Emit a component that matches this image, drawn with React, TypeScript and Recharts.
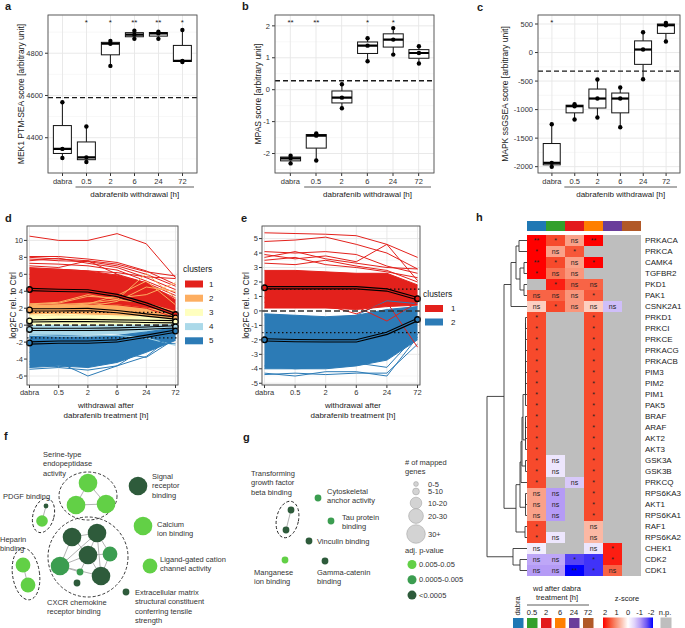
import React from 'react';
import {
  ComposedChart,
  BarChart,
  ScatterChart,
  Bar,
  Line,
  Area,
  Scatter,
  XAxis,
  YAxis,
  CartesianGrid,
  ReferenceLine,
  ReferenceArea,
  Cell,
  LabelList,
} from 'recharts';

const FONT = '"Liberation Sans", Arial, Helvetica, sans-serif';
const INK = '#1a1a1a';
const TICK = '#333';

// ---------- a-c: pathway activity scores per time point ----------
const groups = ['dabra', '0.5', '2', '6', '24', '72'];

const mek1Points = [
  [4304, 4347, 4568],
  [4285, 4307, 4453],
  [4740, 4845, 4858],
  [4868, 4888, 4907],
  [4868, 4894, 4902],
  [4758, 4764, 4910],
];
const mek1Sig = ['', '*', '*', '**', '**', '*'];
const mek1Cutoff = 4590;
const mek1Ticks = [4400, 4600, 4800];
const mek1Minor = [4300, 4500, 4700, 4900];

const mpasPoints = [
  [-2.31, -2.15, -2.07],
  [-2.22, -1.44, -1.37],
  [-0.58, -0.25, 0.17],
  [0.89, 1.38, 1.61],
  [1.1, 1.57, 1.93],
  [0.82, 1.15, 1.36],
];
const mpasSig = ['**', '**', '', '*', '*', ''];
const mpasCutoff = 0.28;
const mpasTicks = [-2, -1, 0, 1, 2];
const mpasMinor = [-2.5, -1.5, -0.5, 0.5, 1.5];

const mapkPoints = [
  [-2003, -1933, -1256],
  [-1174, -940, -905],
  [-1139, -806, -473],
  [-1308, -806, -613],
  [-467, 53, 356],
  [193, 479, 520],
];
const mapkSig = ['*', '', '', '', '', ''];
const mapkCutoff = -327;
const mapkTicks = [-2000, -1500, -1000, -500, 0, 500];
const mapkMinor = [-1750, -1250, -750, -250, 250];

// ---------- d: 5 clusters of phosphosites (band = dense core, lines = visible single sites) ----------
const dC1Low = [2.2, 2.2, 2.2, 2.0, 1.7, 0.9];
const dC1High = [6.7, 6.6, 6.4, 5.9, 5.0, 3.0];
const dC1Lines = [
  [10.5, 10.0, 10.0, 10.8, 9.6, 5.6],
  [8.1, 8.1, 7.8, 7.4, 6.4, 4.8],
  [8.0, 7.8, 7.6, 7.2, 6.3, 5.8],
  [7.8, 7.6, 7.5, 7.0, 6.0, 4.6],
  [7.6, 7.9, 7.3, 6.8, 5.6, 4.2],
  [7.3, 7.2, 7.0, 6.5, 5.2, 3.8],
  [7.0, 6.8, 7.6, 6.0, 5.0, 3.5],
  [6.8, 6.6, 6.4, 6.2, 5.7, 5.5],
  [6.0, 6.5, 6.0, 5.4, 4.8, 3.2],
  [5.5, 5.6, 5.2, 6.0, 4.0, 2.5],
  [2.4, 2.5, 2.5, 2.4, 2.0, 0.9],
];
const dC1Mean = [4.2, 4.1, 4.05, 3.5, 2.5, 1.25];

const dC2Low = [1.1, 1.1, 1.1, 1.0, 0.7, 0.5];
const dC2High = [2.5, 2.5, 2.6, 2.4, 2.0, 1.5];
const dC2Lines = [
  [2.3, 2.4, 2.6, 3.0, 6.1, 3.2],
  [2.0, 2.2, 2.5, 3.5, 5.2, 2.4],
  [1.6, 1.8, 2.2, 2.8, 4.5, 4.0],
  [2.4, 2.6, 3.4, 3.2, 3.6, 5.0],
  [2.5, 2.7, 3.6, 3.0, 2.6, 1.6],
];
const dC2Mean = [1.8, 1.8, 1.85, 1.6, 1.2, 0.85];

const dC3Low = [0.05, 0.1, 0.1, 0.1, 0.1, 0.2];
const dC3High = [1.1, 1.1, 1.1, 1.0, 0.9, 0.8];
const dC3Lines = [[1.2, 1.3, 1.2, 1.1, 1.0, 0.9]];
const dC3Mean = [0.5, 0.55, 0.55, 0.5, 0.45, 0.4];

const dC4Low = [-1.1, -1.1, -1.1, -1.0, -0.8, -0.6];
const dC4High = [-0.05, 0, -0.05, 0, 0, 0.1];
const dC4Lines = [[-1.2, -1.3, -1.3, -1.2, -1.5, -2.4]];
const dC4Mean = [-0.5, -0.5, -0.5, -0.45, -0.35, -0.2];

const dC5Low = [-5.0, -4.8, -5.0, -4.4, -3.2, -1.8];
const dC5High = [-1.2, -1.2, -1.3, -1.2, -0.8, -0.3];
const dC5Lines = [
  [-5.2, -5.0, -5.3, -4.8, -2.6, -1.3],
  [-4.3, -4.4, -6.0, -4.8, -3.7, -1.0],
  [-3.2, -3.4, -3.8, -3.3, -3.8, -1.6],
  [-4.6, -4.9, -4.6, -4.1, -3.0, -0.9],
  [-1.4, -1.5, -1.9, -2.1, -2.0, -2.2],
];
const dC5Mean = [-2.1, -2.0, -2.0, -1.85, -1.3, -0.7];

// ---------- e: 2 clusters ----------
const eC1Low = [0.2, 0.2, 0.2, 0.1, 0.3, 0.4];
const eC1High = [2.8, 2.8, 2.7, 2.6, 2.6, 1.8];
const eC1Lines = [
  [5.4, 5.35, 5.3, 5.2, 4.6, 3.7],
  [4.8, 4.9, 5.1, 4.6, 4.0, 2.9],
  [4.1, 4.0, 4.1, 3.9, 3.1, 2.6],
  [3.9, 3.6, 3.8, 3.4, 4.6, 2.1],
  [3.7, 4.1, 3.6, 3.3, 3.0, 2.9],
  [3.5, 3.7, 3.2, 3.0, 2.7, 2.3],
  [3.3, 3.2, 3.5, 3.1, 2.8, 2.0],
  [0.6, 0.5, 0.4, -0.2, 0.6, -2.5],
  [0.9, 0.8, 0.6, 0.3, -0.7, 0.6],
];
const eC1Mean = [1.6, 1.6, 1.6, 1.6, 1.45, 0.85];

const eC2Low = [-4.0, -4.0, -4.0, -3.8, -3.4, -2.0];
const eC2High = [-0.2, -0.3, -0.4, -0.3, 0.1, 0.3];
const eC2Lines = [
  [-4.3, -4.5, -4.2, -4.2, -4.5, -1.8],
  [-4.4, -4.3, -4.4, -4.3, -4.3, -2.3],
  [-3.8, -4.0, -3.9, -3.6, -3.9, -1.6],
  [-0.3, -0.5, -0.6, -0.3, 0.7, 0.5],
];
const eC2Mean = [-2.0, -2.05, -2.07, -2.07, -1.55, -0.6];

const dTicks = [-6, -4, -2, 0, 2, 4, 6, 8, 10];
const dMinor = [-7, -5, -3, -1, 1, 3, 5, 7, 9, 11];
const eTicks = [-5, -4, -3, -2, -1, 0, 1, 2, 3, 4, 5];
const eMinor = [-4.5, -3.5, -2.5, -1.5, -0.5, 0.5, 1.5, 2.5, 3.5, 4.5, 5.5];

// ---------- f, g: enriched GO terms ----------
const fNodes = [
  { x: 88, y: 53, genes: 32, padj: 0.01 },
  { x: 76, y: 75, genes: 33, padj: 0.01 },
  { x: 106, y: 74, genes: 33, padj: 0.01 },
  { x: 138, y: 56, genes: 34, padj: 0.0001 },
  { x: 46, y: 76, genes: 3, padj: 0.0001 },
  { x: 42, y: 91, genes: 14, padj: 0.01 },
  { x: 143, y: 96, genes: 35, padj: 0.01 },
  { x: 23, y: 135, genes: 24, padj: 0.01 },
  { x: 28, y: 155, genes: 24, padj: 0.01 },
  { x: 72, y: 107, genes: 33, padj: 0.0001 },
  { x: 97, y: 103, genes: 33, padj: 0.0001 },
  { x: 88, y: 125, genes: 33, padj: 0.0001 },
  { x: 110, y: 124, genes: 24, padj: 0.001 },
  { x: 60, y: 136, genes: 33, padj: 0.001 },
  { x: 101, y: 146, genes: 33, padj: 0.0001 },
  { x: 80, y: 142, genes: 7, padj: 0.001 },
  { x: 77, y: 153, genes: 7, padj: 0.0001 },
  { x: 150, y: 136, genes: 24, padj: 0.01 },
  { x: 126, y: 162, genes: 8, padj: 0.0001 },
];
const fEdges = [
  [0, 1], [0, 2], [1, 2], [4, 5], [7, 8],
  [9, 10], [9, 11], [10, 11], [10, 12], [11, 12], [11, 14], [13, 9], [13, 10],
  [13, 11], [13, 14], [14, 10], [14, 12], [13, 15], [15, 11],
];
const fGroups = [
  { cx: 88, cy: 66, rx: 29, ry: 24, angle: 0 },
  { cx: 43.5, cy: 85.5, rx: 10.5, ry: 17.5, angle: 15 },
  { cx: 26, cy: 144, rx: 13.5, ry: 26, angle: -8 },
  { cx: 88, cy: 127, rx: 40, ry: 40, angle: 0 },
];
const fLabels = [
  { x: 43, y: 24, lines: ['Serine-type', 'endopeptidase', 'activity'] },
  { x: 3, y: 66, lines: ['PDGF binding'] },
  { x: 152, y: 46, lines: ['Signal', 'receptor', 'binding'] },
  { x: 157, y: 94, lines: ['Calcium', 'ion binding'] },
  { x: 0, y: 109, lines: ['Heparin', 'binding'] },
  { x: 160, y: 129, lines: ['Ligand-gated cation', 'channel activity'] },
  { x: 47, y: 172, lines: ['CXCR chemokine', 'receptor binding'] },
  { x: 135, y: 162, lines: ['Extracellular matrix', 'structural constituent', 'conferring tensile', 'strength'] },
];

const gNodes = [
  { x: 61, y: 80, genes: 7, padj: 0.0001 },
  { x: 56, y: 100, genes: 7, padj: 0.0001 },
  { x: 88, y: 68, genes: 7, padj: 0.001 },
  { x: 101, y: 91, genes: 7, padj: 0.001 },
  { x: 79, y: 111, genes: 7, padj: 0.0001 },
  { x: 55, y: 130, genes: 7, padj: 0.01 },
  { x: 95, y: 131, genes: 7, padj: 0.0001 },
];
const gEdges = [[0, 1]];
const gGroups = [{ cx: 57.5, cy: 89.5, rx: 11, ry: 18.5, angle: 12 }];
const gLabels = [
  { x: 21, y: 43, lines: ['Transforming', 'growth factor', 'beta binding'] },
  { x: 97, y: 61, lines: ['Cytoskeletal', 'anchor activity'] },
  { x: 112, y: 87, lines: ['Tau protein', 'binding'] },
  { x: 87, y: 111, lines: ['Vinculin binding'] },
  { x: 24, y: 142, lines: ['Manganese', 'ion binding'] },
  { x: 87, y: 142, lines: ['Gamma-catenin', 'binding'] },
];

const geneBinLabels = ['0-5', '5-10', '10-20', '20-30', '30+'];
const geneBinExample = [3, 7, 15, 25, 35];
const pBinLabels = ['0.005-0.05', '0.0005-0.005', '<0.0005'];
const pBinExample = [0.01, 0.001, 0.0001];

// ---------- h: kinase activity heatmap ----------
const kinases = [
  'PRKACA', 'PRKCA', 'CAMK4', 'TGFBR2', 'PKD1', 'PAK1', 'CSNK2A1', 'PRKD1', 'PRKCI', 'PRKCE',
  'PRKACG', 'PRKACB', 'PIM3', 'PIM2', 'PIM1', 'PAK5', 'BRAF', 'ARAF', 'AKT2', 'AKT3',
  'GSK3A', 'GSK3B', 'PRKCQ', 'RPS6KA3', 'AKT1', 'RPS6KA1', 'RAF1', 'RPS6KA2', 'CHEK1', 'CDK2', 'CDK1',
];
const hColumns = ['dabra', '0.5', '2', '6', '24', '72'];
const hColumnColors = ['#1f78b4', '#33a02c', '#e31a1c', '#ff7f00', '#6a3d9a', '#b15928'];
const N = null;
const zScores = [
  [2.0, 1.5, 0.8, 2.0, N, N],
  [2.0, 0.8, 1.4, N, N, N],
  [2.0, 1.5, 0.8, 2.0, N, N],
  [2.0, 1.2, 0.9, N, N, N],
  [N, 1.8, 1.3, 1.3, N, N],
  [1.3, 1.3, 0.9, 1.4, N, N],
  [0.4, 1.5, 0.9, 0.4, -0.7, N],
  [1.5, N, N, 1.5, N, N],
  [1.5, N, N, 1.5, N, N],
  [1.5, N, N, 1.5, N, N],
  [1.5, N, N, 1.5, N, N],
  [1.5, N, N, 1.5, N, N],
  [1.5, N, N, 1.5, N, N],
  [1.5, N, N, 1.5, N, N],
  [1.5, N, N, 1.5, N, N],
  [1.5, N, N, 1.5, N, N],
  [1.5, N, N, 1.5, N, N],
  [1.5, N, N, 1.5, N, N],
  [1.5, N, N, 1.5, N, N],
  [1.5, N, N, 1.5, N, N],
  [1.5, -0.3, N, 1.5, N, N],
  [1.5, -0.3, N, 1.5, N, N],
  [1.5, N, -0.6, 1.5, N, N],
  [0.8, -1.0, N, 1.5, N, N],
  [0.8, -1.0, N, 1.5, N, N],
  [0.8, -1.0, N, 1.5, N, N],
  [1.5, N, N, 0.6, N, N],
  [1.5, -0.3, N, 0.6, N, N],
  [-0.2, N, N, -0.3, 1.8, N],
  [-0.9, -0.9, -1.6, -1.7, 1.8, N],
  [-1.0, -1.0, -2.0, -1.7, 1.3, N],
];
const sigs = [
  ['**', '*', 'ns', '**', '', ''],
  ['*', 'ns', '*', '', '', ''],
  ['**', '*', 'ns', '*', '', ''],
  ['*', 'ns', 'ns', '', '', ''],
  ['', '*', 'ns', 'ns', '', ''],
  ['ns', 'ns', 'ns', '*', '', ''],
  ['ns', '*', 'ns', 'ns', 'ns', ''],
  ['*', '', '', '*', '', ''],
  ['*', '', '', '*', '', ''],
  ['*', '', '', '*', '', ''],
  ['*', '', '', '*', '', ''],
  ['*', '', '', '*', '', ''],
  ['*', '', '', '*', '', ''],
  ['*', '', '', '*', '', ''],
  ['*', '', '', '*', '', ''],
  ['*', '', '', '*', '', ''],
  ['*', '', '', '*', '', ''],
  ['*', '', '', '*', '', ''],
  ['*', '', '', '*', '', ''],
  ['*', '', '', '*', '', ''],
  ['*', 'ns', '', '*', '', ''],
  ['*', 'ns', '', '*', '', ''],
  ['*', '', 'ns', '*', '', ''],
  ['ns', 'ns', '', '*', '', ''],
  ['ns', 'ns', '', '*', '', ''],
  ['ns', 'ns', '', '*', '', ''],
  ['*', '', '', 'ns', '', ''],
  ['*', 'ns', '', 'ns', '', ''],
  ['ns', '', '', 'ns', '*', ''],
  ['ns', 'ns', '*', '*', '*', ''],
  ['ns', 'ns', '**', '*', 'ns', ''],
];
// hclust-style merges: negative = leaf (1-based row), positive = earlier merge, then height
const dendroMerges = [
  [-1, -2, 8], [-3, -4, 3], [-5, -6, 3], [2, 3, 7], [1, 4, 11], [5, -7, 16],
  [-8, -9, 1.5], [7, -10, 1.5], [8, -11, 1.5], [9, -12, 1.5], [10, -13, 1.5], [11, -14, 1.5],
  [12, -15, 1.5], [13, -16, 1.5], [-17, -18, 1.5], [15, -19, 1.5], [16, -20, 1.5], [14, 17, 4],
  [-21, -22, 1.5], [18, 19, 5], [20, -23, 6], [-24, -25, 1.5], [22, -26, 1.5], [21, 23, 7],
  [-27, -28, 2], [24, 25, 11], [6, 26, 23], [-30, -31, 7], [-29, 28, 14], [27, 29, 40],
];
const zLegend = [2, 1, 0, -1, -2];

// ---------- helpers ----------
const zStops = [2, 1.5, 1, 0.5, 0, -0.5, -1, -1.5, -2];
const zStopColors = ['#ff0000', '#f74a2c', '#f98b6d', '#fcc3b2', '#ffffff', '#e1d5fb', '#b59bf6', '#6b55f3', '#0000ff'];
const NP = '#bebebe';

function hexToRgb(h: string) {
  return [1, 3, 5].map(i => parseInt(h.slice(i, i + 2), 16));
}
function zColor(z: number | null) {
  if (z === null) return NP;
  const v = Math.max(-2, Math.min(2, z));
  for (let i = 0; i < zStops.length - 1; i++) {
    if (v <= zStops[i] && v >= zStops[i + 1]) {
      const t = (zStops[i] - v) / (zStops[i] - zStops[i + 1]);
      const a = hexToRgb(zStopColors[i]);
      const b = hexToRgb(zStopColors[i + 1]);
      const c = a.map((x, k) => Math.round(x + t * (b[k] - x)));
      return `rgb(${c[0]},${c[1]},${c[2]})`;
    }
  }
  return NP;
}

const pColor = (p: number) => (p < 0.0005 ? '#2e5b3b' : p < 0.005 ? '#3b9d50' : '#62d046');
const geneRadius = (g: number) => (g <= 5 ? 2.4 : g <= 10 ? 3.4 : g <= 20 ? 5.8 : g <= 30 ? 7.4 : 9.3);

const quantile = (s: number[], p: number) => {
  const h = (s.length - 1) * p;
  const lo = Math.floor(h);
  return lo + 1 < s.length ? s[lo] + (h - lo) * (s[lo + 1] - s[lo]) : s[lo];
};

function boxRows(points: number[][], sig: string[], starAt: number) {
  return groups.map((g, i) => {
    const s = [...points[i]].sort((a, b) => a - b);
    const q1 = quantile(s, 0.25);
    const med = quantile(s, 0.5);
    const q3 = quantile(s, 0.75);
    const iqr = q3 - q1;
    const inside = s.filter(v => v >= q1 - 1.5 * iqr && v <= q3 + 1.5 * iqr);
    return {
      g, range: [s[0], s[s.length - 1]], pts: s, q1, med, q3,
      wLo: inside[0], wHi: inside[inside.length - 1], sig: sig[i], starAt,
    };
  });
}

function BoxShape(props: any) {
  const { x, y, width, height, payload } = props;
  const [lo, hi] = payload.range;
  const top = Math.min(y, y + height);
  const bot = Math.max(y, y + height);
  const py = (v: number) => top + ((bot - top) * (hi - v)) / (hi - lo);
  const cx = x + width / 2;
  return (
    <g>
      <line x1={cx} x2={cx} y1={py(payload.wHi)} y2={py(payload.q3)} stroke="#111" strokeWidth={1} />
      <line x1={cx} x2={cx} y1={py(payload.q1)} y2={py(payload.wLo)} stroke="#111" strokeWidth={1} />
      <rect x={x} y={py(payload.q3)} width={width} height={Math.max(1, py(payload.q1) - py(payload.q3))}
        fill="#fff" stroke="#111" strokeWidth={1} />
      <line x1={x} x2={x + width} y1={py(payload.med)} y2={py(payload.med)} stroke="#000" strokeWidth={2.2} />
      {payload.pts.map((v: number, i: number) => (
        <circle key={i} cx={cx} cy={py(v)} r={2.2} fill="#000" />
      ))}
      {payload.sig ? (
        <text x={cx} y={py(payload.starAt) + 2} fontSize={8} textAnchor="middle" dominantBaseline="central" fill={INK}>
          {payload.sig}
        </text>
      ) : null}
    </g>
  );
}

const PAD = 2.5;
const boxA = { left: 0, top: 0, width: 200, height: 203, yw: 48, mt: 15, mr: 3, xh: 30 };
const boxB = { left: 225, top: 0, width: 212, height: 203, yw: 50, mt: 15, mr: 3, xh: 30 };
const boxC = { left: 450, top: 0, width: 233, height: 203, yw: 88, mt: 15, mr: 3, xh: 30 };
const boxD = { left: 0, top: 215, width: 181, height: 184, yw: 27, mt: 11, mr: 3, xh: 14 };
const boxE = { left: 236, top: 215, width: 187, height: 184, yw: 26, mt: 11, mr: 3, xh: 14 };
const plotOf = (b: any) => ({ x: b.left + b.yw, y: b.top + b.mt, w: b.width - b.yw - b.mr, h: b.height - b.mt - b.xh });

const axisTick = { fontSize: 7.5, fill: TICK };

function BoxPanel({ box, points, sig, starAt, cutoff, domain, ticks, minor }: any) {
  const data = boxRows(points, sig, starAt);
  return (
    <div style={{ position: 'absolute', left: box.left, top: box.top }}>
      <ComposedChart width={box.width} height={box.height} data={data}
        margin={{ top: box.mt, right: box.mr, bottom: 0, left: 0 }} barCategoryGap="12%">
        <CartesianGrid horizontalValues={minor} vertical={false} stroke="#f1f1f1" strokeWidth={0.6} />
        <CartesianGrid stroke="#e6e6e6" strokeWidth={0.9} />
        <XAxis dataKey="g" type="category" interval={0} padding={{ left: PAD, right: PAD }} height={box.xh}
          axisLine={false} tickSize={3} tickLine={{ stroke: TICK }} tick={axisTick} tickMargin={3} />
        <YAxis type="number" domain={domain} ticks={ticks} allowDataOverflow width={box.yw}
          axisLine={false} tickSize={3} tickLine={{ stroke: TICK }} tick={axisTick} tickMargin={2} />
        <ReferenceLine y={cutoff} stroke="#1a1a1a" strokeDasharray="5 3" strokeWidth={1.3} />
        <Bar dataKey="range" shape={BoxShape} isAnimationActive={false} />
      </ComposedChart>
    </div>
  );
}

function endDot(color: string) {
  return (props: any) => {
    const { cx, cy, index } = props;
    if (index !== 0 && index !== groups.length - 1) return <g key={index} />;
    return <circle key={index} cx={cx} cy={cy} r={2.8} fill={color} stroke="#000" strokeWidth={1.4} />;
  };
}

function ClusterPanel({ box, clusters, domain, ticks, minor }: any) {
  const data = groups.map((t, i) => {
    const row: any = { t };
    clusters.forEach((c: any, ci: number) => {
      row[`b${ci}`] = [c.low[i], c.high[i]];
      c.lines.forEach((l: number[], li: number) => { row[`l${ci}_${li}`] = l[i]; });
      row[`m${ci}`] = c.mean[i];
    });
    return row;
  });
  return (
    <div style={{ position: 'absolute', left: box.left, top: box.top }}>
      <ComposedChart width={box.width} height={box.height} data={data}
        margin={{ top: box.mt, right: box.mr, bottom: 0, left: 0 }}>
        <CartesianGrid horizontalValues={minor} vertical={false} stroke="#f1f1f1" strokeWidth={0.6} />
        <CartesianGrid stroke="#e6e6e6" strokeWidth={0.9} />
        <XAxis dataKey="t" type="category" interval={0} padding={{ left: PAD, right: PAD }} height={box.xh}
          axisLine={false} tickSize={3} tickLine={{ stroke: TICK }} tick={axisTick} tickMargin={2} />
        <YAxis type="number" domain={domain} ticks={ticks} allowDataOverflow width={box.yw}
          axisLine={false} tickSize={3} tickLine={{ stroke: TICK }} tick={axisTick} tickMargin={1} />
        {clusters.map((c: any, ci: number) => (
          <Area key={`b${ci}`} type="linear" dataKey={`b${ci}`} fill={c.color} fillOpacity={1}
            stroke={c.color} strokeWidth={1} dot={false} activeDot={false} isAnimationActive={false} />
        ))}
        {clusters.map((c: any, ci: number) =>
          c.lines.map((_: any, li: number) => (
            <Line key={`l${ci}_${li}`} type="linear" dataKey={`l${ci}_${li}`} stroke={c.color}
              strokeWidth={1} dot={false} activeDot={false} isAnimationActive={false} />
          )),
        )}
        <ReferenceLine y={0} stroke="#333" strokeDasharray="6 3" strokeWidth={1.6} />
        <ReferenceLine y={1.5} stroke="#111" strokeDasharray="1.5 2.5" strokeWidth={1.3} />
        <ReferenceLine y={-1.5} stroke="#111" strokeDasharray="1.5 2.5" strokeWidth={1.3} />
        {clusters.map((c: any, ci: number) => (
          <Line key={`mo${ci}`} type="linear" dataKey={`m${ci}`} stroke="#000" strokeWidth={3.4}
            dot={false} activeDot={false} isAnimationActive={false} />
        ))}
        {clusters.map((c: any, ci: number) => (
          <Line key={`mi${ci}`} type="linear" dataKey={`m${ci}`} stroke={c.color} strokeWidth={1.1}
            dot={endDot(c.color)} activeDot={false} isAnimationActive={false} />
        ))}
      </ComposedChart>
    </div>
  );
}

function ellipseShape(angle: number) {
  return (p: any) => {
    const cx = p.x + p.width / 2;
    const cy = p.y + p.height / 2;
    return (
      <ellipse cx={cx} cy={cy} rx={Math.abs(p.width) / 2} ry={Math.abs(p.height) / 2}
        transform={`rotate(${angle} ${cx} ${cy})`} fill="none" stroke="#222" strokeDasharray="3 2" strokeWidth={0.9} />
    );
  };
}

function NodeShape(props: any) {
  const { cx, cy, payload } = props;
  return <circle cx={cx} cy={cy} r={geneRadius(payload.genes)} fill={pColor(payload.padj)} />;
}

function TermLabel(props: any) {
  const { cx, cy, payload } = props;
  return (
    <g>
      {payload.lines.map((l: string, i: number) => (
        <text key={i} x={cx} y={cy + i * 9.5} fontSize={7.5} fill="#333" dominantBaseline="central">{l}</text>
      ))}
    </g>
  );
}

function NetworkPanel({ left, top, width, height, nodes, edges, rings, labels }: any) {
  return (
    <div style={{ position: 'absolute', left, top }}>
      <ScatterChart width={width} height={height} margin={{ top: 0, right: 0, bottom: 0, left: 0 }}>
        <XAxis type="number" dataKey="x" domain={[0, width]} allowDataOverflow hide />
        <YAxis type="number" dataKey="y" domain={[0, height]} allowDataOverflow reversed hide />
        {edges.map(([a, b]: number[], i: number) => (
          <ReferenceLine key={`e${i}`} ifOverflow="visible" stroke="#a0a0a0" strokeWidth={0.8}
            segment={[{ x: nodes[a].x, y: nodes[a].y }, { x: nodes[b].x, y: nodes[b].y }]} />
        ))}
        <Scatter data={nodes} shape={NodeShape} isAnimationActive={false} />
        {rings.map((r: any, i: number) => (
          <ReferenceArea key={`r${i}`} ifOverflow="visible" x1={r.cx - r.rx} x2={r.cx + r.rx}
            y1={r.cy - r.ry} y2={r.cy + r.ry} shape={ellipseShape(r.angle)} />
        ))}
        <Scatter data={labels} shape={TermLabel} isAnimationActive={false} />
      </ScatterChart>
    </div>
  );
}

function dendroSegments() {
  const pos: number[] = [];
  const hts: number[] = [];
  const where = (ref: number) => (ref < 0 ? { y: -ref - 0.5, h: 0 } : { y: pos[ref - 1], h: hts[ref - 1] });
  const segs: any[] = [];
  dendroMerges.forEach(([a, b, h]) => {
    const A = where(a);
    const B = where(b);
    segs.push([{ x: A.h, y: A.y }, { x: h, y: A.y }]);
    segs.push([{ x: B.h, y: B.y }, { x: h, y: B.y }]);
    segs.push([{ x: h, y: A.y }, { x: h, y: B.y }]);
    pos.push((A.y + B.y) / 2);
    hts.push(h);
  });
  return segs;
}

const HEAT_X = 527;
const HEAT_Y = 235;
const CELL_W = 19;
const CELL_H = 11;

function Heatmap() {
  const rows = kinases.map((k, i) => {
    const row: any = { kinase: k };
    hColumns.forEach((_, j) => {
      row[`c${j}`] = 1;
      row[`s${j}`] = sigs[i][j];
    });
    return row;
  });
  const annot = [{ name: 'wd', c0: 1, c1: 1, c2: 1, c3: 1, c4: 1, c5: 1 }];
  const leaves = kinases.map((_, i) => ({ x: 0, y: i + 0.5 }));
  const segs = dendroSegments();
  const heatW = CELL_W * hColumns.length;
  const heatH = CELL_H * kinases.length;
  return (
    <>
      <div style={{ position: 'absolute', left: HEAT_X, top: 221 }}>
        <BarChart layout="vertical" width={heatW} height={10} data={annot}
          margin={{ top: 0, right: 0, bottom: 0, left: 0 }} barCategoryGap={0}>
          <XAxis type="number" domain={[0, hColumns.length]} hide />
          <YAxis type="category" dataKey="name" hide />
          {hColumns.map((_, j) => (
            <Bar key={j} dataKey={`c${j}`} stackId="a" fill={hColumnColors[j]} isAnimationActive={false} />
          ))}
        </BarChart>
      </div>
      <div style={{ position: 'absolute', left: HEAT_X, top: HEAT_Y }}>
        <BarChart layout="vertical" width={heatW + 44} height={heatH} data={rows}
          margin={{ top: 0, right: 0, bottom: 0, left: 0 }} barCategoryGap={0}>
          <XAxis type="number" domain={[0, hColumns.length]} hide />
          <YAxis type="category" dataKey="kinase" orientation="right" width={44} interval={0}
            axisLine={false} tickLine={false} tickSize={2} tickMargin={2}
            tick={{ fontSize: 8, fill: INK }} />
          {hColumns.map((_, j) => (
            <Bar key={j} dataKey={`c${j}`} stackId="h" isAnimationActive={false}>
              {rows.map((__, i) => (
                <Cell key={i} fill={zColor(zScores[i][j])} />
              ))}
              <LabelList dataKey={`s${j}`} position="center" fontSize={7} fill="#222" />
            </Bar>
          ))}
        </BarChart>
      </div>
      <div style={{ position: 'absolute', left: 485, top: HEAT_Y }}>
        <ScatterChart width={42} height={heatH} margin={{ top: 0, right: 0, bottom: 0, left: 0 }}>
          <XAxis type="number" dataKey="x" domain={[0, 42]} allowDataOverflow reversed hide />
          <YAxis type="number" dataKey="y" domain={[0, kinases.length]} allowDataOverflow reversed hide />
          <Scatter data={leaves} shape={() => <g />} isAnimationActive={false} />
          {segs.map((s, i) => (
            <ReferenceLine key={i} segment={s} ifOverflow="visible" stroke="#333" strokeWidth={0.9} />
          ))}
        </ScatterChart>
      </div>
    </>
  );
}

function T({ x, y, children, size = 7.5, anchor = 'start', weight = 'normal', fill = INK, rotate = 0 }: any) {
  return (
    <text x={x} y={y} fontSize={size} textAnchor={anchor} dominantBaseline="central" fontWeight={weight}
      fill={fill} transform={rotate ? `rotate(${rotate} ${x} ${y})` : undefined}>
      {children}
    </text>
  );
}

function Overlay() {
  const boxes = [
    { b: boxA, title: 'MEK1 PTM-SEA score [arbitrary unit]', tx: 21 },
    { b: boxB, title: 'MPAS score [arbitrary unit]', tx: 258 },
    { b: boxC, title: 'MAPK ssGSEA score [arbitrary unit]', tx: 505 },
  ];
  const lines = [
    { b: boxD, tx: 12.5, cx: 106 },
    { b: boxE, tx: 246, cx: 353 },
  ];
  const dColors = ['#e3211c', '#fdae61', '#ffffbf', '#abd9e9', '#2c7bb6'];
  const eColors = ['#e3211c', '#2c7bb6'];
  const gradStops = zStops.map((z, i) => ({ off: ((2 - z) / 4) * 100, c: zStopColors[i] }));
  return (
    <svg width={685} height={628} style={{ position: 'absolute', left: 0, top: 0, pointerEvents: 'none' }}
      fontFamily={FONT}>
      <defs>
        <linearGradient id="zgrad" x1="0" x2="1" y1="0" y2="0">
          {gradStops.map((s, i) => <stop key={i} offset={`${s.off}%`} stopColor={s.c} />)}
        </linearGradient>
      </defs>
      {[['a', 5, 6], ['b', 242, 6], ['c', 477, 7], ['d', 5, 218], ['e', 241, 218], ['h', 476, 217],
        ['f', 4, 436], ['g', 243, 437]].map(([l, x, y]: any) => (
        <T key={l} x={x} y={y} size={11} weight="bold">{l}</T>
      ))}
      {boxes.map(({ b, title, tx }, i) => {
        const R = plotOf(b);
        const band = (R.w - 2 * PAD) / 6;
        const ux1 = R.x + PAD + band + 1;
        const ux2 = R.x + R.w - 3;
        return (
          <g key={i}>
            <rect x={R.x} y={R.y} width={R.w} height={R.h} fill="none" stroke="#555" strokeWidth={0.9} />
            <line x1={ux1} x2={ux2} y1={R.y + R.h + 14} y2={R.y + R.h + 14} stroke="#333" strokeWidth={0.8} />
            <T x={(ux1 + ux2) / 2} y={R.y + R.h + 21} size={8} anchor="middle">dabrafenib withdrawal [h]</T>
            <T x={tx} y={R.y + R.h / 2} size={8.5} anchor="middle" rotate={-90}>{title}</T>
          </g>
        );
      })}
      {lines.map(({ b, tx, cx }, i) => {
        const R = plotOf(b);
        return (
          <g key={i}>
            <rect x={R.x} y={R.y} width={R.w} height={R.h} fill="none" stroke="#555" strokeWidth={0.9} />
            <T x={tx} y={R.y + R.h / 2} size={8.5} anchor="middle" rotate={-90}>log2FC rel. to Ctrl</T>
            <T x={cx} y={405} size={8} anchor="middle">withdrawal after</T>
            <T x={cx} y={415} size={8} anchor="middle">dabrafenib treatment [h]</T>
          </g>
        );
      })}
      <T x={183} y={269} size={8.5}>clusters</T>
      {dColors.map((c, i) => (
        <g key={i}>
          <rect x={185} y={280.5 + i * 14.2} width={18} height={7} fill={c} />
          <T x={209} y={284 + i * 14.2} size={8}>{i + 1}</T>
        </g>
      ))}
      <T x={423} y={294} size={8.5}>clusters</T>
      {eColors.map((c, i) => (
        <g key={i}>
          <rect x={425} y={305 + i * 13.5} width={18} height={7} fill={c} />
          <T x={451} y={308.5 + i * 13.5} size={8}>{i + 1}</T>
        </g>
      ))}
      <T x={405} y={462} size={7.5} fill="#333"># of mapped</T>
      <T x={405} y={471} size={7.5} fill="#333">genes</T>
      {geneBinLabels.map((l, i) => {
        const yy = [484, 491.5, 503, 516, 534][i];
        return (
          <g key={l}>
            <circle cx={416} cy={yy} r={geneRadius(geneBinExample[i])} fill="#d3d3d3" stroke="#9a9a9a" strokeWidth={0.5} />
            <T x={428} y={yy} size={7.5} fill="#333">{l}</T>
          </g>
        );
      })}
      <T x={405} y={550.5} size={7.5} fill="#333">adj. p-value</T>
      {pBinLabels.map((l, i) => (
        <g key={l}>
          <circle cx={412} cy={564.5 + i * 15.3} r={4.5} fill={pColor(pBinExample[i])} />
          <T x={419} y={564.5 + i * 15.3} size={7.5} fill="#333">{l}</T>
        </g>
      ))}
      <T x={517} y={606} size={7.5} anchor="middle" rotate={-90}>dabra</T>
      <T x={557} y={588} size={7.5} anchor="middle">wd after dabra</T>
      <T x={557} y={597.5} size={7.5} anchor="middle">treatment [h]</T>
      <line x1={527} x2={589} y1={605} y2={605} stroke="#333" strokeWidth={0.8} />
      {hColumns.map((c, i) => (
        <g key={c}>
          <rect x={513 + i * 14} y={618} width={10.5} height={10.5} fill={hColumnColors[i]} />
          {i > 0 ? <T x={518 + i * 14} y={612} size={7.5} anchor="middle">{c}</T> : null}
        </g>
      ))}
      <T x={627} y={598} size={7.5} anchor="middle">z-score</T>
      <rect x={603} y={617.5} width={50} height={10.5} fill="url(#zgrad)" />
      {zLegend.map((z, i) => (
        <T key={z} x={605 + i * 11.5} y={612} size={7.5} anchor="middle">{z}</T>
      ))}
      <T x={665} y={612} size={7.5} anchor="middle">n.p.</T>
      <rect x={660.5} y={617.5} width={11} height={10.5} fill={NP} />
    </svg>
  );
}

export default function App() {
  const dClusters = [
    { color: '#e3211c', low: dC1Low, high: dC1High, lines: dC1Lines, mean: dC1Mean },
    { color: '#fdae61', low: dC2Low, high: dC2High, lines: dC2Lines, mean: dC2Mean },
    { color: '#ffffbf', low: dC3Low, high: dC3High, lines: dC3Lines, mean: dC3Mean },
    { color: '#abd9e9', low: dC4Low, high: dC4High, lines: dC4Lines, mean: dC4Mean },
    { color: '#2c7bb6', low: dC5Low, high: dC5High, lines: dC5Lines, mean: dC5Mean },
  ];
  // blue drawn first so the red single lines dipping below zero stay visible
  const eClusters = [
    { color: '#2c7bb6', low: eC2Low, high: eC2High, lines: eC2Lines, mean: eC2Mean },
    { color: '#e3211c', low: eC1Low, high: eC1High, lines: eC1Lines, mean: eC1Mean },
  ];
  return (
    <div style={{ position: 'absolute', left: 0, top: 0, width: 685, height: 628, background: '#fff',
      fontFamily: FONT, overflow: 'hidden' }}>
      <BoxPanel box={boxA} points={mek1Points} sig={mek1Sig} starAt={4955} cutoff={mek1Cutoff}
        domain={[4233, 4981]} ticks={mek1Ticks} minor={mek1Minor} />
      <BoxPanel box={boxB} points={mpasPoints} sig={mpasSig} starAt={2.17} cutoff={mpasCutoff}
        domain={[-2.61, 2.34]} ticks={mpasTicks} minor={mpasMinor} />
      <BoxPanel box={boxC} points={mapkPoints} sig={mapkSig} starAt={570} cutoff={mapkCutoff}
        domain={[-2111, 658]} ticks={mapkTicks} minor={mapkMinor} />
      <ClusterPanel box={boxD} clusters={dClusters} domain={[-7.06, 11.7]} ticks={dTicks} minor={dMinor} />
      <ClusterPanel box={boxE} clusters={eClusters} domain={[-5.12, 5.87]} ticks={eTicks} minor={eMinor} />
      <NetworkPanel left={0} top={430} width={230} height={198} nodes={fNodes} edges={fEdges}
        rings={fGroups} labels={fLabels} />
      <NetworkPanel left={230} top={430} width={220} height={198} nodes={gNodes} edges={gEdges}
        rings={gGroups} labels={gLabels} />
      <Heatmap />
      <Overlay />
    </div>
  );
}
